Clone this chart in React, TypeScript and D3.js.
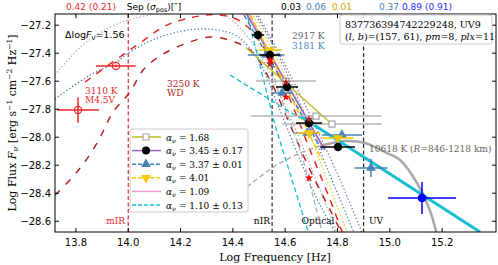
import React from 'react';
import * as d3 from 'd3';

const W = 498;
const H = 265;

const xTicks = [13.8, 14.0, 14.2, 14.4, 14.6, 14.8, 15.0, 15.2];
const yTicks = [-27.2, -27.4, -27.6, -27.8, -28.0, -28.2, -28.4, -28.6];

// photometry (log nu, log F_nu, errors)
const mdwarfObs = [
  { x: 13.808, y: -27.806, xe: 0.08, ye: 0.09 },
  { x: 13.953, y: -27.491, xe: 0.076, ye: 0.01 },
];
const blackObs = [
  { x: 14.496, y: -27.27, xe: 0.023, ye: 0.02 },
  { x: 14.542, y: -27.413, xe: 0.04, ye: 0.03 },
  { x: 14.607, y: -27.641, xe: 0.042, ye: 0.02 },
  { x: 14.691, y: -27.899, xe: 0.05, ye: 0.02 },
  { x: 14.802, y: -28.07, xe: 0.065, ye: 0.02 },
];
const steelObs = [
  { x: 14.527, y: -27.413, xe: 0.07, ye: 0.01 },
  { x: 14.588, y: -27.684, xe: 0.04, ye: 0.01 },
  { x: 14.684, y: -27.97, xe: 0.045, ye: 0.01 },
  { x: 14.817, y: -27.984, xe: 0.077, ye: 0.01 },
  { x: 14.928, y: -28.22, xe: 0.063, ye: 0.064 },
];
const goldObs = [
  { x: 14.542, y: -27.377, xe: 0.045, ye: 0.01 },
  { x: 14.691, y: -27.97, xe: 0.045, ye: 0.01 },
  { x: 14.802, y: -28.006, xe: 0.06, ye: 0.01 },
];
const grayObs = [
  { x: 14.603, y: -27.599, xe: 0.115, ye: 0.01 },
  { x: 14.718, y: -27.849, xe: 0.25, ye: 0.01 },
  { x: 14.779, y: -27.906, xe: 0.19, ye: 0.01 },
];
const uvObs = [{ x: 15.123, y: -28.434, xe: 0.13, ye: 0.114 }];
const brownStars = [[14.542, -27.477], [14.603, -27.606], [14.691, -27.87]];
const redStars = [[14.542, -27.449], [14.603, -27.713], [14.691, -28.291]];

// model curves
const bb2917 = [[13.72, -27.556], [13.827, -27.341], [13.957, -27.191], [14.095, -27.12], [14.236, -27.056],
  [14.359, -27.113], [14.427, -27.22], [14.504, -27.413], [14.58, -27.699], [14.657, -28.02], [14.733, -28.377], [14.81, -28.734]];
const bb3181 = [[13.72, -27.727], [13.854, -27.556], [13.949, -27.47], [14.007, -27.391], [14.122, -27.284], [14.274, -27.227],
  [14.401, -27.263], [14.454, -27.341], [14.496, -27.441], [14.58, -27.806], [14.657, -28.163], [14.733, -28.484], [14.81, -28.734]];
const m45v = [[13.835, -27.606], [13.957, -27.441], [14.045, -27.327], [14.148, -27.199], [14.274, -27.134], [14.351, -27.127],
  [14.427, -27.17], [14.485, -27.27], [14.535, -27.413], [14.619, -27.734], [14.695, -28.091], [14.772, -28.449], [14.829, -28.734]];
const wd3250 = [[13.72, -28.413], [13.804, -28.249], [13.881, -28.041], [13.942, -27.82], [14.007, -27.677], [14.057, -27.52],
  [14.133, -27.406], [14.236, -27.32], [14.313, -27.284], [14.408, -27.32], [14.473, -27.391], [14.542, -27.591],
  [14.619, -27.913], [14.695, -28.234], [14.772, -28.52], [14.829, -28.734]];
const goldBB = [[14.466, -27.091], [14.561, -27.413], [14.657, -27.806], [14.753, -28.27], [14.848, -28.734]];
const purpleBB = [[14.485, -27.091], [14.58, -27.413], [14.695, -27.841], [14.81, -28.306], [14.905, -28.734]];
const steelBB = [[14.477, -27.091], [14.573, -27.413], [14.676, -27.841], [14.779, -28.306], [14.875, -28.734]];
const hotBBRise = [[14.454, -28.356], [14.561, -28.206], [14.657, -28.113], [14.733, -28.063]];
const hotBB = [[14.733, -28.063], [14.829, -28.027], [14.905, -28.041], [14.982, -28.106], [15.039, -28.163],
  [15.104, -28.327], [15.154, -28.527], [15.185, -28.734]];
const grayDashSteep = [[14.512, -27.306], [14.58, -27.699], [14.657, -28.091], [14.741, -28.677]];

// power-law fits
const fitOlive = [[14.45, -27.36], [14.78, -27.91]];
const fitPurple = [[14.439, -27.077], [14.752, -28.091]];
const fitSteel = [[14.427, -27.077], [14.741, -28.091]];
const fitGold = [[14.454, -27.077], [14.741, -28.163]];
const fitPink = [[14.446, -27.077], [14.749, -28.091]];
const fitCyanThick = [[14.657, -27.849], [15.345, -28.677]];
const fitCyanDash = [[14.389, -27.556], [14.657, -27.863]];
const fitCyanSteep = [[14.45, -27.091], [14.561, -27.913], [14.688, -28.677]];

const legendLabels = ['1.68', '3.45 \u00b1 0.17', '3.37 \u00b1 0.01', '4.01', '1.09', '1.10 \u00b1 0.13'];

const RED = '#e8282b';
const DARKRED = '#b22222';
const STEEL = '#4682b4';
const GOLD = '#f5c800';
const CYAN = '#17becf';
const OLIVE = '#bcbd22';
const PURPLE = '#9467bd';
const PINK = '#f09bd6';
const GRAY = '#a8a8a8';

const x = d3.scaleLinear().domain([13.72, 15.406]).range([55, 496]);
const y = d3.scaleLinear().domain([-27.12, -28.677]).range([14, 232]);

const smooth = d3.line<number[]>().x(d => x(d[0])).y(d => y(d[1])).curve(d3.curveCatmullRom);
const straight = d3.line<number[]>().x(d => x(d[0])).y(d => y(d[1]));

const sym = (type, size) => d3.symbol().type(type).size(size)();

const ErrBars = ({ data, color, width = 1.5 }) => (
  <g stroke={color} strokeWidth={width}>
    {data.map((d, i) => (
      <g key={i}>
        <line x1={x(d.x - d.xe)} x2={x(d.x + d.xe)} y1={y(d.y)} y2={y(d.y)} />
        <line x1={x(d.x)} x2={x(d.x)} y1={y(d.y - d.ye)} y2={y(d.y + d.ye)} />
      </g>
    ))}
  </g>
);

const Markers = ({ data, path, fill, stroke = 'none', rotate = 0, sw = 1 }) => (
  <g>
    {data.map((d, i) => (
      <path key={i} d={path} fill={fill} stroke={stroke} strokeWidth={sw}
        transform={`translate(${x(d.x)},${y(d.y)}) rotate(${rotate})`} />
    ))}
  </g>
);

export default function App() {
  const serif = 'DejaVu Serif';
  const sans = 'DejaVu Sans';
  const legendY = legendLabels.map((_, i) => 137 + i * 13.6);
  const tri = sym(d3.symbolTriangle, 42);
  const sq = sym(d3.symbolSquare, 36);
  const star = sym(d3.symbolStar, 22);

  return (
    <svg width={W} height={H} style={{ position: 'absolute', left: 0, top: 0, background: '#fff' }}>
      <defs>
        <clipPath id="plotclip"><rect x={55} y={14} width={441} height={218} /></clipPath>
      </defs>

      <g clipPath="url(#plotclip)">
        {/* model curves */}
        <path d={smooth(bb2917)} fill="none" stroke="#aaaaaa" strokeWidth={1.3} strokeDasharray="1.3,2.2" />
        <path d={smooth(bb3181)} fill="none" stroke={STEEL} strokeWidth={1.3} strokeDasharray="1.3,2.2" />
        <path d={smooth(m45v)} fill="none" stroke={RED} strokeWidth={1.5} strokeDasharray="7,7" />
        <path d={smooth(wd3250)} fill="none" stroke={DARKRED} strokeWidth={1.5} strokeDasharray="7,8" />
        <path d={smooth(goldBB)} fill="none" stroke={GOLD} strokeWidth={1.3} strokeDasharray="1.3,2.2" />
        <path d={smooth(steelBB)} fill="none" stroke={STEEL} strokeWidth={1.3} strokeDasharray="1.3,2.2" />
        <path d={smooth(purpleBB)} fill="none" stroke={PURPLE} strokeWidth={1.3} strokeDasharray="1.3,2.2" />
        <path d={smooth(grayDashSteep)} fill="none" stroke="#aaaaaa" strokeWidth={1.2} strokeDasharray="5,3" />
        <path d={smooth(hotBBRise)} fill="none" stroke="#aaaaaa" strokeWidth={1.3} strokeDasharray="5,3" />
        <path d={smooth(hotBB)} fill="none" stroke={GRAY} strokeWidth={2.5} />

        {/* band edges */}
        <line x1={x(14.0)} x2={x(14.0)} y1={14} y2={232} stroke={RED} strokeWidth={1.2} strokeDasharray="4,2.5" />
        <line x1={x(14.55)} x2={x(14.55)} y1={14} y2={232} stroke="#000" strokeWidth={1} strokeDasharray="4,2.5" />
        <line x1={x(14.9)} x2={x(14.9)} y1={14} y2={232} stroke="#000" strokeWidth={1} strokeDasharray="4,2.5" />

        {/* fits */}
        <path d={straight(fitCyanSteep)} fill="none" stroke={CYAN} strokeWidth={1.3} strokeDasharray="5,3" />
        <path d={straight(fitCyanDash)} fill="none" stroke={CYAN} strokeWidth={1.3} strokeDasharray="5,3" />
        <path d={straight(fitPink)} fill="none" stroke={PINK} strokeWidth={1.5} />
        <path d={straight(fitSteel)} fill="none" stroke={STEEL} strokeWidth={1.5} strokeDasharray="5,3" />
        <path d={straight(fitPurple)} fill="none" stroke={PURPLE} strokeWidth={1.5} />
        <path d={straight(fitGold)} fill="none" stroke={GOLD} strokeWidth={1.5} strokeDasharray="5,3" />
        <path d={straight(fitOlive)} fill="none" stroke={OLIVE} strokeWidth={1.3} />
        <path d={straight(fitCyanThick)} fill="none" stroke={CYAN} strokeWidth={3} />

        {/* data */}
        <ErrBars data={grayObs} color="#b5b5b5" />
        <Markers data={grayObs} path={sq} fill="#fff" stroke="#a8a8a8" sw={1.2} />
        <ErrBars data={steelObs} color={STEEL} />
        <Markers data={steelObs} path={tri} fill={STEEL} />
        <ErrBars data={goldObs} color={GOLD} />
        <Markers data={goldObs} path={tri} fill={GOLD} rotate={180} />
        <ErrBars data={blackObs} color="#000" />
        <Markers data={blackObs} path={sym(d3.symbolCircle, 55)} fill="#000" />
        {brownStars.map((d, i) => (
          <path key={'b' + i} d={star} fill={DARKRED} transform={`translate(${x(d[0])},${y(d[1])})`} />
        ))}
        {redStars.map((d, i) => (
          <path key={'r' + i} d={star} fill="#ff0000" transform={`translate(${x(d[0])},${y(d[1])})`} />
        ))}
        <ErrBars data={mdwarfObs} color={RED} />
        {mdwarfObs.map((d, i) => (
          <circle key={i} cx={x(d.x)} cy={y(d.y)} r={3.6} fill="none" stroke={RED} strokeWidth={1.2} />
        ))}
        <ErrBars data={uvObs} color="#0000ff" />
        <Markers data={uvObs} path={sym(d3.symbolCircle, 60)} fill="#0000ff" />
      </g>

      {/* frame and ticks */}
      <rect x={55} y={14} width={441} height={218} fill="none" stroke="#000" strokeWidth={1} />
      {xTicks.map(t => (
        <g key={t}>
          <line x1={x(t)} x2={x(t)} y1={232} y2={228} stroke="#000" />
          <line x1={x(t)} x2={x(t)} y1={14} y2={18} stroke="#000" />
          <text x={x(t)} y={246} textAnchor="middle" fontFamily={sans} fontSize={10}>{d3.format('.1f')(t)}</text>
        </g>
      ))}
      {yTicks.map(t => (
        <g key={t}>
          <line x1={55} x2={59} y1={y(t)} y2={y(t)} stroke="#000" />
          <line x1={496} x2={492} y1={y(t)} y2={y(t)} stroke="#000" />
          <text x={51} y={y(t) + 3.5} textAnchor="end" fontFamily={sans} fontSize={10}>{d3.format('.1f')(t)}</text>
        </g>
      ))}

      {/* axis labels */}
      <text x={275} y={261} textAnchor="middle" fontFamily={serif} fontSize={11}>Log Frequency [Hz]</text>
      <text transform="translate(16,123) rotate(-90)" textAnchor="middle" fontFamily={serif} fontSize={11}>
        Log Flux <tspan fontStyle="italic">F</tspan><tspan fontSize={8} dy={2}>{'\u03bd'}</tspan>
        <tspan dy={-2}> [erg s</tspan><tspan fontSize={7.5} dy={-4}>{'\u22121'}</tspan>
        <tspan dy={4}> cm</tspan><tspan fontSize={7.5} dy={-4}>{'\u22122'}</tspan>
        <tspan dy={4}> Hz</tspan><tspan fontSize={7.5} dy={-4}>{'\u22121'}</tspan><tspan dy={4}>]</tspan>
      </text>

      {/* top separation labels */}
      <g fontFamily={sans} fontSize={9} textAnchor="middle">
        <text x={91} y={10} fill={RED}>0.42 (0.21)</text>
        <text x={154} y={10} fill="#000">Sep (<tspan fontStyle="italic">{'\u03c3'}</tspan><tspan fontSize={6.5} dy={2}>pos</tspan><tspan dy={-2}>)[{'\u2033'}]</tspan></text>
        <text x={291} y={10} fill="#000">0.03</text>
        <text x={316} y={10} fill={STEEL}>0.06</text>
        <text x={342} y={10} fill="#d4a800">0.01</text>
        <text x={389} y={10} fill={STEEL}>0.37</text>
        <text x={427} y={10} fill="#2b2bff">0.89 (0.91)</text>
      </g>

      {/* band labels */}
      <g fontFamily={serif} fontSize={9}>
        <text x={125} y={224} textAnchor="end" fill={RED}>mIR</text>
        <text x={270} y={224} textAnchor="end">nIR</text>
        <text x={318} y={224} textAnchor="middle">Optical</text>
        <text x={369} y={224}>UV</text>
      </g>

      {/* annotations */}
      <text x={65} y={38} fontFamily={sans} fontSize={9.5}>
        {'\u0394'}log<tspan fontStyle="italic">F</tspan><tspan fontSize={7} dy={2}>{'\u03bd'}</tspan><tspan dy={-2}>=1.56</tspan>
      </text>
      <g fontFamily={serif} fontSize={9}>
        <text x={85} y={94} fill={RED}>3110 K</text>
        <text x={85} y={103} fill={RED}>M4.5V</text>
        <text x={167} y={87} fill={DARKRED}>3250 K</text>
        <text x={167} y={96} fill={DARKRED}>WD</text>
        <text x={292} y={39} fill="#666">2917 K</text>
        <text x={292} y={49} fill={STEEL}>3181 K</text>
        <text x={369} y={152} fill="#666">10618 K  (<tspan fontStyle="italic">R</tspan>=846-1218 km)</text>
      </g>

      {/* info box */}
      <rect x={340} y={15} width={152} height={29} rx={3} fill="#fff" fillOpacity={0.9} stroke="#cccccc" />
      <g fontFamily={serif} fontSize={9.5}>
        <text x={345} y={28}>837736394742229248, UV9</text>
        <text x={345} y={40}>(<tspan fontStyle="italic">l</tspan>, <tspan fontStyle="italic">b</tspan>)=(157, 61), <tspan fontStyle="italic">pm</tspan>=8, <tspan fontStyle="italic">plx</tspan>=11</text>
      </g>

      {/* legend */}
      <rect x={130} y={129} width={118} height={83} rx={2} fill="#fff" fillOpacity={0.85} stroke="#cccccc" />
      {legendY.map((ly, i) => {
        const handles = [
          { stroke: OLIVE, dash: null },
          { stroke: PURPLE, dash: null },
          { stroke: STEEL, dash: '4,2' },
          { stroke: GOLD, dash: '4,2' },
          { stroke: PINK, dash: null },
          { stroke: CYAN, dash: '4,2' },
        ][i];
        return (
          <g key={i}>
            <line x1={132} x2={161} y1={ly} y2={ly} stroke={handles.stroke} strokeWidth={1.5} strokeDasharray={handles.dash || undefined} />
            {i === 0 && <path d={sq} fill="#fff" stroke="#a8a8a8" strokeWidth={1.2} transform={`translate(146,${ly})`} />}
            {i === 1 && <circle cx={146} cy={ly} r={4} fill="#000" />}
            {i === 2 && <path d={tri} fill={STEEL} transform={`translate(146,${ly})`} />}
            {i === 3 && <path d={tri} fill={GOLD} transform={`translate(146,${ly}) rotate(180)`} />}
            <text x={166} y={ly + 3.5} fontFamily={serif} fontSize={9}>
              <tspan fontStyle="italic">{'\u03b1'}</tspan><tspan fontSize={6.5} dy={2}>{'\u03bd'}</tspan><tspan dy={-2}> = {legendLabels[i]}</tspan>
            </text>
          </g>
        );
      })}
    </svg>
  );
}
